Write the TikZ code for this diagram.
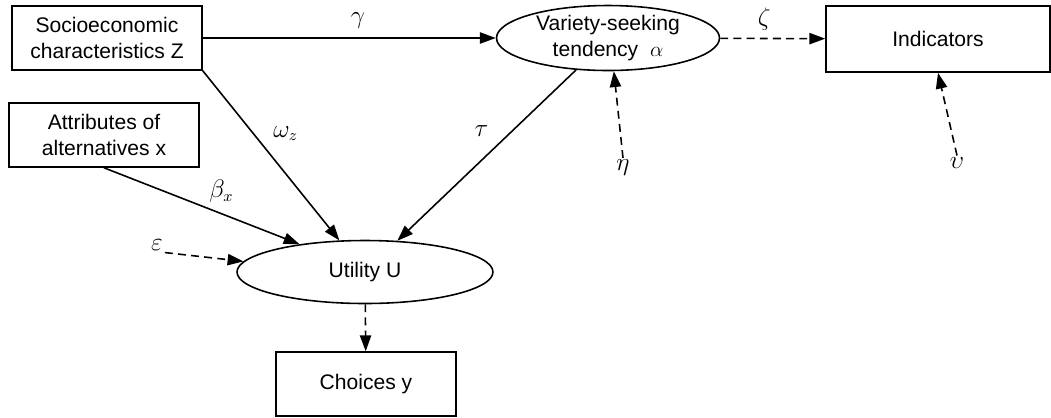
\documentclass[tikz,border=0pt]{standalone}
\usepackage{amsmath}
\usepackage{fontspec}
\setmainfont{Liberation Sans}
\usetikzlibrary{shapes.geometric,arrows.meta}

\begin{document}
\begin{tikzpicture}[x=0.02cm,y=-0.02cm,
  font=\fontsize{12}{14.5}\selectfont,
  box/.style={draw,line width=0.9pt,align=center,inner sep=0pt},
  latent/.style={draw,ellipse,line width=0.9pt,align=center,inner sep=0pt},
  arr/.style={line width=0.9pt,-{Triangle[length=9pt,width=6.4pt]}},
  err/.style={arr,dash pattern=on 4.5pt off 3pt},
  lab/.style={inner sep=1pt,font=\fontsize{13.5}{16}\selectfont}]
  \useasboundingbox (0,0) rectangle (1051,417);
  \node[box,minimum width=3.8cm,minimum height=1.28cm] (socio) at (107,38) {Socioeconomic\\characteristics Z};
  \node[box,minimum width=3.8cm,minimum height=1.28cm] (attr) at (104,135) {Attributes of\\alternatives x};
  \node[latent,minimum width=4.46cm,minimum height=1.3cm] (variety) at (608,38) {Variety-seeking\\tendency\ \ $\alpha$};
  \node[box,minimum width=4.48cm,minimum height=1.32cm] (indic) at (938,39) {Indicators};
  \node[latent,minimum width=5.12cm,minimum height=1.26cm] (util) at (365,272) {Utility U};
  \node[box,minimum width=3.6cm,minimum height=1.28cm] (choice) at (366,384) {Choices y};
  % error terms
  \node[lab] (eps) at (157,245) {$\varepsilon$};
  \node[lab] (eta) at (623,168) {$\eta$};
  \node[lab] (ups) at (957,163) {$\upsilon$};

  \path[arr]
    (socio) edge node[lab,pos=0.53,above=4pt] (lgam) {$\gamma$} (variety)
    (socio.south east) edge node[lab,pos=0.37,right=10pt] (lomz) {$\omega_z$} (util.129)
    (attr.south) edge node[lab,pos=0.6,above=5pt] (lbetx) {$\beta_x$} (util.157.5)
    (variety.225) edge node[lab,pos=0.36,left=12pt] (ltau) {$\tau$} (util.44);
  \path[err]
    (variety) edge node[lab,pos=0.42,above=3pt] (lzeta) {$\zeta$} (indic)
    (eps.south east) edge (util.175)
    (eta.north) edge (variety.280)
    (ups.north) edge (indic.south)
    (util) edge (choice);
\end{tikzpicture}
\end{document}
